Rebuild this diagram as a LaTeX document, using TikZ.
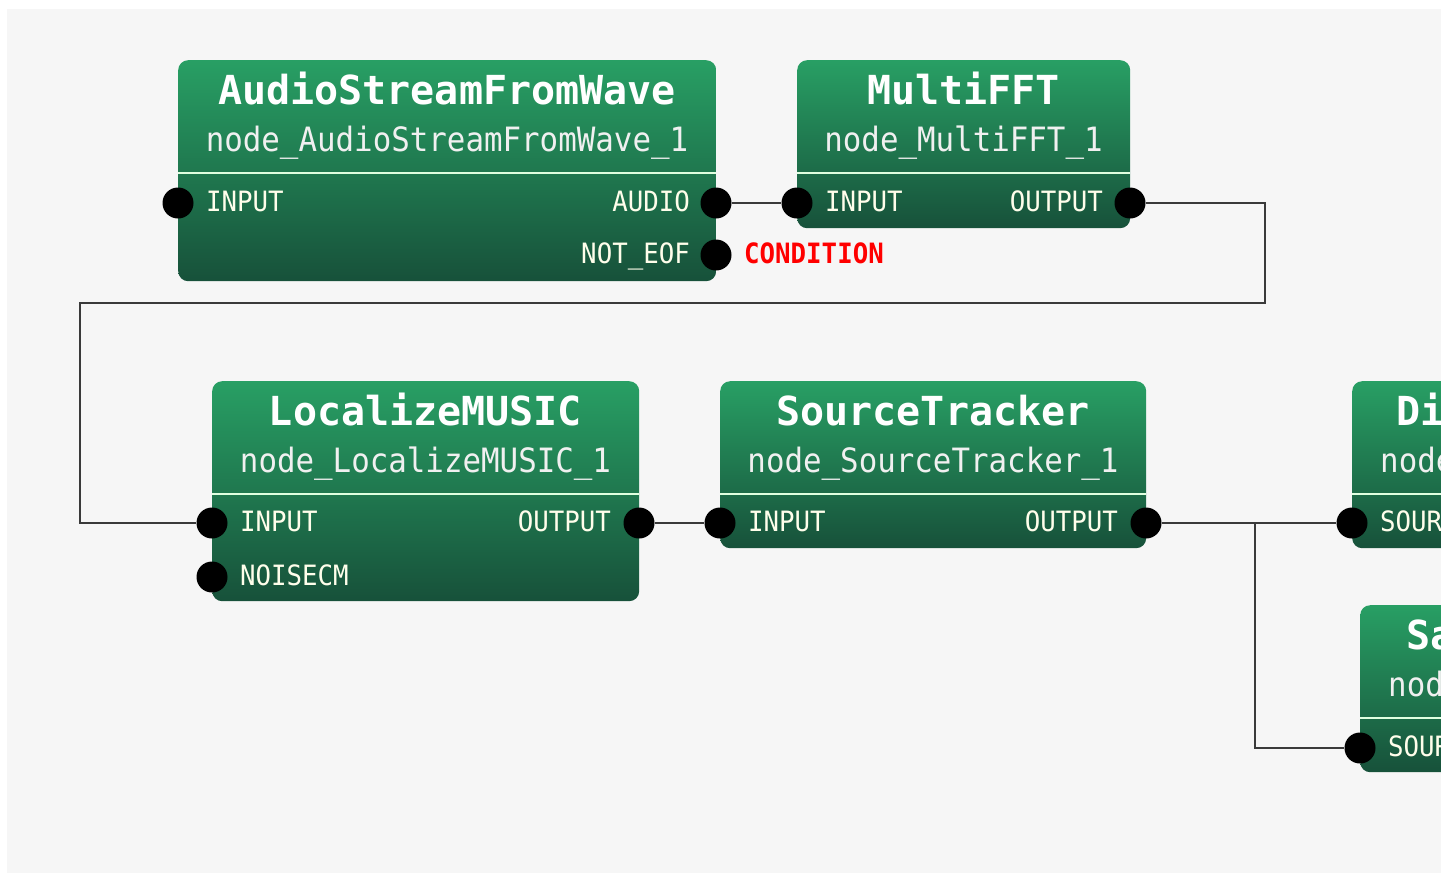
\documentclass[tikz,border=0pt]{standalone}
\usepackage{fontspec}
\usepackage{xcolor}
\usepackage{tikz}
\newfontfamily\monofont{DejaVu Sans Mono}
\newfontfamily\narrowfont[FakeStretch=0.92]{DejaVu Sans Mono}
\definecolor{hgtop}{HTML}{289F64}
\definecolor{hgbot}{HTML}{17513A}
\definecolor{cpanel}{HTML}{F6F6F6}
\definecolor{cwire}{HTML}{3A3A3A}
\definecolor{cred}{HTML}{FF0000}
\tikzset{
  block/.style={anchor=north west,rounded corners=10pt,top color=hgtop,bottom color=hgbot,inner sep=0pt,draw=none},
  ttl/.style={text=white,font=\monofont\bfseries\fontsize{40}{40}\selectfont,inner sep=0pt},
  subttl/.style={text=white!94!black,font=\narrowfont\fontsize{33.5}{34}\selectfont,inner sep=0pt},
  plbl/.style={text=white!92!yellow,font=\narrowfont\fontsize{28}{28}\selectfont,inner sep=0pt},
  port/.style={circle,fill=black,minimum size=31pt,inner sep=0pt},
  divider/.style={draw=white!88!green,line width=2.5pt},
  wireline/.style={draw=cwire,line width=2.2pt}
}

\begin{document}
\begin{tikzpicture}[x=1pt,y=-1pt]
\useasboundingbox (0,0) rectangle (1441,873);
\clip (0,0) rectangle (1441,873);
\fill[white] (0,0) rectangle (1441,873);
\fill[cpanel] (7,9) rectangle (1441,873);

% ============ AudioStreamFromWave ============
\begin{scope}[shift={(178,60)}]
  \node[block,minimum width=538pt,minimum height=221pt] (asfw) at (0,0) {};
  \node[ttl,anchor=base] at (269,44) {AudioStreamFromWave};
  \node[subttl,anchor=base] at (269,91) {node\_AudioStreamFromWave\_1};
  \draw[divider] (0,113) -- (538,113);
  \node[port] (asfw-in) at (0,143) {};
  \node[plbl,anchor=base west] at (28,151) {INPUT};
  \node[port] (asfw-audio) at (538,143) {};
  \node[plbl,anchor=base east] at (512,151) {AUDIO};
  \node[port] (asfw-eof) at (538,195) {};
  \node[plbl,anchor=base east] at (512,203) {NOT\_EOF};
\end{scope}
\node[plbl,anchor=base west,text=cred,font=\narrowfont\bfseries\fontsize{28}{28}\selectfont] (cond) at (744,263) {CONDITION};

% ============ MultiFFT ============
\begin{scope}[shift={(797,60)}]
  \node[block,minimum width=333pt,minimum height=168pt] (fft) at (0,0) {};
  \node[ttl,anchor=base] at (166.5,44) {MultiFFT};
  \node[subttl,anchor=base] at (166.5,91) {node\_MultiFFT\_1};
  \draw[divider] (0,113) -- (333,113);
  \node[port] (fft-in) at (0,143) {};
  \node[plbl,anchor=base west] at (28,151) {INPUT};
  \node[port] (fft-out) at (333,143) {};
  \node[plbl,anchor=base east] at (306,151) {OUTPUT};
\end{scope}

% ============ LocalizeMUSIC ============
\begin{scope}[shift={(212,381)}]
  \node[block,minimum width=427pt,minimum height=220pt] (lm) at (0,0) {};
  \node[ttl,anchor=base] at (213.5,44) {LocalizeMUSIC};
  \node[subttl,anchor=base] at (213.5,91) {node\_LocalizeMUSIC\_1};
  \draw[divider] (0,113) -- (427,113);
  \node[port] (lm-in) at (0,142) {};
  \node[plbl,anchor=base west] at (28,150) {INPUT};
  \node[port] (lm-out) at (427,142) {};
  \node[plbl,anchor=base east] at (399,150) {OUTPUT};
  \node[port] (lm-noise) at (0,196) {};
  \node[plbl,anchor=base west] at (28,204) {NOISECM};
\end{scope}

% ============ SourceTracker ============
\begin{scope}[shift={(720,381)}]
  \node[block,minimum width=426pt,minimum height=167pt] (st) at (0,0) {};
  \node[ttl,anchor=base] at (213,44) {SourceTracker};
  \node[subttl,anchor=base] at (213,91) {node\_SourceTracker\_1};
  \draw[divider] (0,113) -- (426,113);
  \node[port] (st-in) at (0,142) {};
  \node[plbl,anchor=base west] at (28,150) {INPUT};
  \node[port] (st-out) at (426,142) {};
  \node[plbl,anchor=base east] at (398,150) {OUTPUT};
\end{scope}

% ============ cut off at the right edge ============
\begin{scope}[shift={(1352,381)}]
  \node[block,minimum width=430pt,minimum height=167pt] (di) at (0,0) {};
  \node[ttl,anchor=base west] at (44,44) {Di};
  \node[subttl,anchor=base west] at (28,91) {node};
  \draw[divider] (0,113) -- (430,113);
  \node[port] (di-in) at (0,142) {};
  \node[plbl,anchor=base west] at (28,150) {SOUR};
\end{scope}
\begin{scope}[shift={(1360,605)}]
  \node[block,minimum width=430pt,minimum height=167pt] (sa) at (0,0) {};
  \node[ttl,anchor=base west] at (46,44) {Sa};
  \node[subttl,anchor=base west] at (28,91) {nod};
  \draw[divider] (0,113) -- (430,113);
  \node[port] (sa-in) at (0,143) {};
  \node[plbl,anchor=base west] at (28,151) {SOUR};
\end{scope}

% ============ links ============
\coordinate (loopR) at (1265,303);
\coordinate (loopL) at (80,303);
\coordinate (split) at (1255,523);
\draw[wireline] (asfw-audio) -- (fft-in);
\draw[wireline] (fft-out) -| (loopR) -- (loopL) |- (lm-in);
\draw[wireline] (lm-out) -- (st-in);
\draw[wireline] (st-out) -- (di-in);
\draw[wireline] (split) |- (sa-in);

\end{tikzpicture}
\end{document}
